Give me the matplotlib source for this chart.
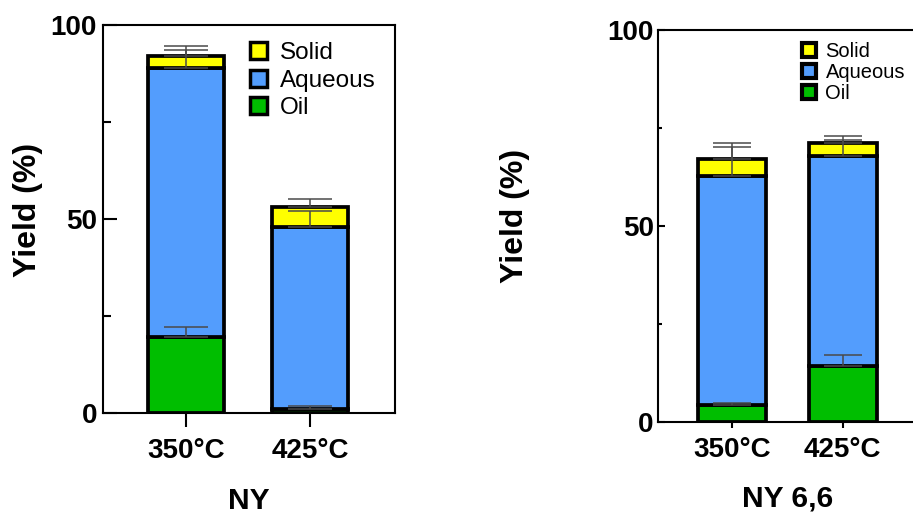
import matplotlib
matplotlib.use("Agg")
import matplotlib.pyplot as plt
from matplotlib.patches import Patch
import numpy as np

plt.rcParams['font.family'] = ['Liberation Sans', 'DejaVu Sans']

temps = ["350°C", "425°C"]
series = ["Oil", "Aqueous", "Solid"]

# NY
ny_oil = [19.6, 1.1]
ny_aqueous = [69.4, 46.8]
ny_solid = [2.9, 5.2]
ny_oil_err = [2.6, 0.7]
ny_aqueous_err = [4.6, 4.1]
ny_solid_err = [2.7, 2.1]

# NY 6,6
ny66_oil = [4.3, 14.3]
ny66_aqueous = [58.5, 53.6]
ny66_solid = [4.2, 3.4]
ny66_oil_err = [0.5, 2.8]
ny66_aqueous_err = [7.3, 4.0]
ny66_solid_err = [4.1, 1.7]

colors = {"Oil": "#00BE00", "Aqueous": "#539DFD", "Solid": "#FFFF00"}
err_color = "#4A4A4A"

W, H = 913, 514
fig = plt.figure(figsize=(W / 100, H / 100), dpi=100)


def px_axes(x0, y0, x1, y1):
    return fig.add_axes([x0 / W, 1 - y1 / H, (x1 - x0) / W, (y1 - y0) / H])


def draw_panel(ax, oil, aq, sol, oil_e, aq_e, sol_e, title, big):
    x = np.arange(len(temps))
    width = 0.61
    lw = 2.7
    bottoms = np.zeros(len(temps))
    data = [("Oil", oil, oil_e), ("Aqueous", aq, aq_e), ("Solid", sol, sol_e)]
    capsize = 15.5 if big else 13.5
    for name, vals, errs in data:
        vals = np.array(vals)
        ax.bar(x, vals, width, bottom=bottoms, color=colors[name],
               edgecolor="black", linewidth=lw, zorder=2)
        tops = bottoms + vals
        ax.errorbar(x, tops, yerr=[np.zeros(len(x)), np.array(errs)], fmt="none",
                    ecolor=err_color, elinewidth=1.1, capsize=capsize,
                    capthick=1.1, zorder=3)
        bottoms = tops
    ax.set_xlim(-0.67, 1.68)
    ax.set_ylim(0, 100)
    ax.set_yticks([0, 50, 100])
    ax.set_yticks([25, 75], minor=True)
    ax.set_xticks(x)
    ax.set_xticklabels(temps, fontsize=20, fontweight="bold")
    for lab in ax.get_yticklabels():
        lab.set_fontsize(20)
        lab.set_fontweight("bold")
    for s in ax.spines.values():
        s.set_linewidth(1.5)
    if big:
        ax.tick_params(axis="y", which="major", direction="in", length=10, width=1.5, pad=4)
        ax.tick_params(axis="y", which="minor", direction="in", length=6, width=1.5)
        ax.tick_params(axis="x", which="major", direction="out", length=10, width=1.5, pad=8)
    else:
        ax.tick_params(axis="y", which="major", direction="in", length=5, width=1.5, pad=3)
        ax.tick_params(axis="y", which="minor", direction="in", length=3, width=1.5)
        ax.tick_params(axis="x", which="major", direction="out", length=4, width=1.5, pad=7)
    ax.set_ylabel("Yield (%)", fontsize=23, fontweight="bold")
    ax.set_xlabel(title, fontsize=21.5, fontweight="bold")

    handles = [Patch(facecolor=colors[n], edgecolor="black", linewidth=2.5 if big else 3.0, label=n)
               for n in ["Solid", "Aqueous", "Oil"]]
    if big:
        ax.legend(handles=handles, loc="upper left", bbox_to_anchor=(0.505, 0.955),
                  frameon=False, fontsize=17.5, handlelength=0.7, handleheight=0.7,
                  handletextpad=0.55, labelspacing=0.22, borderaxespad=0, borderpad=0)
    else:
        ax.legend(handles=handles, loc="upper left", bbox_to_anchor=(0.555, 0.97),
                  frameon=False, fontsize=14.5, handlelength=0.7, handleheight=0.7,
                  handletextpad=0.45, labelspacing=0.1, borderaxespad=0, borderpad=0)


ax1 = px_axes(102.5, 25, 394.5, 413)
draw_panel(ax1, ny_oil, ny_aqueous, ny_solid, ny_oil_err, ny_aqueous_err,
           ny_solid_err, "NY", True)
ax1.yaxis.set_label_coords(-0.205, 0.523)
ax1.xaxis.set_label_coords(0.5, -0.19)

ax2 = px_axes(658, 30, 918, 422)
draw_panel(ax2, ny66_oil, ny66_aqueous, ny66_solid, ny66_oil_err, ny66_aqueous_err,
           ny66_solid_err, "NY 6,6", False)
ax2.yaxis.set_label_coords(-0.492, 0.526)
ax2.xaxis.set_label_coords(0.5, -0.16)

fig.savefig("out.png", dpi=100)
